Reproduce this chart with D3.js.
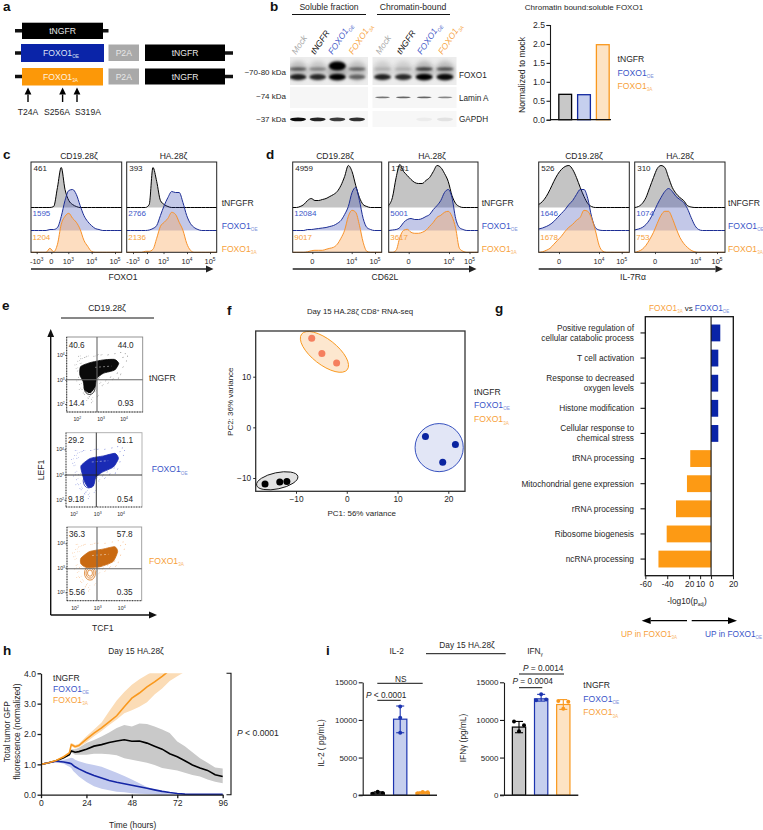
<!DOCTYPE html>
<html><head><meta charset="utf-8">
<script src="https://cdn.jsdelivr.net/npm/d3@7"></script>
<style>html,body{margin:0;padding:0;background:#fff}svg{display:block}text{font-family:"Liberation Sans",Arial,sans-serif;fill:#262626}</style>
</head><body><svg id="fig" width="763" height="830"></svg>
<script>
// ---------- colours ----------
const BLACK="#000",BLUE="#1329a0",ORANGE="#f9981d",BLUET="#3a55c8",ORANGET="#f7a13a";
// ---------- panel b ----------
const laneNames=["Mock","tNGFR","FOXO1","FOXO1"];
const laneSubs=["","","OE","3A"];
const solLower=[.85,.8,1,.5], solUpper=[.55,.35,1,.5];
const chrLower=[.85,.8,1,.95], chrUpper=[.15,.15,.7,.6];
const laminSol=[0,0,0,0], laminChr=[.4,.45,.45,.35];
const gapdhSol=[.95,.85,.75,.8], gapdhChr=[0,0,.04,.08];
const ratioNames=["tNGFR","OE","3A"], ratioValues=[.67,.66,1.98];
const ratioTicks=[0,.5,1,1.5,2,2.5];
// ---------- panels c,d histograms (counts in 25 equal bins across each plot) ----------
const c1T=[0,0,0,0,0,0,1,20,40,18,7,3,1,0,0,0,0,0,0,0,0,0,0,0,0];
const c1O=[0,0,0,0,0,1,1,3,14,30,40,41,36,25,15,9,5,2,1,0,0,0,0,0,0];
const c1A=[0,0,0,0,0,4,.5,8,28,36,39,34,30,23,12,6,1,0,0,0,0,0,0,0,0];
const c2T=[0,0,0,0,0,0,3,40,26,7,3,1,0,0,0,0,0,0,0,0,0,0,0,0,0];
const c2O=[0,0,0,0,0,0,.5,2,5,15,25,33,39,38,38,28,15,7,3,1,0,0,0,0,0];
const c2A=[0,0,0,0,0,1,1,3,14,26,30,34,40,38,30,22,9,2,0,0,0,0,0,0,0];
const d1T=[0,0,1,3,7,9,7,7,8,9,11,13,16,22,31,42,36,22,10,3,1,0,0,0,0];
const d1O=[0,0,0,0,1,1,1.5,2,2.5,3,4,5,7,10,16,24,38,43,30,12,3,1,0,0,0];
const d1A=[0,0,0,0,.5,1.5,2,2,2,3,4,5,8,14,22,36,42,40,27,10,1,0,0,0,0];
const d2T=[2,10,30,43,36,32,28,25,24,24,27,30,36,42,40,34,26,12,4,1,0,0,0,0,0];
const d2O=[0,.5,1,3,8,11,12,11,11,12,14,16,21,25,30,38,41,33,12,3,1,0,0,0,0];
const d2A=[0,0,2,15,22,23,20,19,19,20,22,26,30,35,37,40,41,36,24,4,1,0,0,0,0];
const d3T=[3,6,11,18,26,33,38,41,42,38,30,20,11,4,1,0,0,0,0,0,0,0,0,0,0];
const d3O=[1.5,2.5,4,6,9,13,17,21,26,30,36,41,41,32,14,3,.5,0,0,0,0,0,0,0,0];
const d3A=[0,.5,2,4,8,12,16,21,25,28,32,35,42,41,34,22,7,1,0,0,0,0,0,0,0];
const d4T=[0,1,4,10,20,30,39,42,40,30,20,14,10,7,2,.5,0,0,0,0,0,0,0,0,0];
const d4O=[.5,1.5,3,6,11,18,26,33,39,42,39,34,31,28,22,13,5,1,0,0,0,0,0,0,0];
const d4A=[0,1,3,7,13,20,29,37,41,41,34,24,15,9,5,2,.5,0,0,0,0,0,0,0,0];
const mfiC1=["461","1595","1204"],mfiC2=["393","2766","2136"],mfiD1=["4959","12084","9017"],
      mfiD2=["1781","5001","3617"],mfiD3=["526","1646","1678"],mfiD4=["310","1074","753"];
// ---------- panel e ----------
const quadLabels=[["40.6","44.0","14.4","0.93"],["29.2","61.1","9.18","0.54"],["36.3","57.8","5.56","0.35"]];
const blobT_x=[2.14,2.54,3.10,3.59,3.77,3.59,3.10,2.82,2.75,2.54,2.32,2.25,2.11];
const blobT_y=[3.53,3.69,3.80,3.82,3.66,3.39,3.26,3.05,2.72,2.47,2.58,2.92,3.19];
const blobO_x=[2.30,2.68,3.25,3.74,3.89,3.67,3.18,2.92,2.82,2.60,2.44,2.33];
const blobO_y=[3.36,3.64,3.74,3.84,3.64,3.30,3.09,2.89,2.55,2.49,2.76,3.09];
const blobA_x=[2.26,2.64,3.21,3.71,3.83,3.64,3.14,2.90,2.47,2.26];
const blobA_y=[3.39,3.66,3.76,3.86,3.66,3.25,3.05,3.02,3.02,3.16];
const lobeX=[2.52,2.62,2.66], lobeY=[2.68,2.75,2.78];
const haloX=[1.9,2.0,2.05,2.02,1.98,2.1,2.2,2.3,2.45,2.6,2.15,2.05,2.4,2.7,2.85,3.0,3.3,3.6,3.85,4.05,4.1,3.95,3.7,3.4,3.2,2.95,2.75,2.5,2.2,2.08,2.25,2.4,2.3,2.9,3.5,3.95,4.15,3.85,1.95,2.12,3.05,3.3,3.75,2.6,2.85];
const haloY=[3.6,3.35,3.1,3.75,2.95,2.8,2.6,2.4,2.25,2.2,3.85,3.95,3.95,3.95,4.0,4.0,4.0,4.05,4.1,4.05,3.75,3.5,3.25,3.1,2.95,2.85,2.5,2.3,3.0,2.6,2.45,2.15,3.9,3.05,3.0,3.9,3.95,3.2,3.45,3.65,2.75,2.85,3.05,2.05,2.3];
// ---------- panel f ----------
const pc1T=[-16.1,-13.2,-11.8], pc2T=[-11.2,-10.8,-10.7];
const pc1O=[15.5,21.4,18.9],    pc2O=[-1.8,-3.4,-6.9];
const pc1A=[-6.9,-4.9,-2.0],    pc2A=[17.6,14.6,12.7];
// ---------- panel g ----------
const goTerms=[["Positive regulation of","cellular catabolic process"],["T cell activation"],["Response to decreased","oxygen levels"],["Histone modification"],["Cellular response to","chemical stress"],["tRNA processing"],["Mitochondrial gene expression"],["rRNA processing"],["Ribosome biogenesis"],["ncRNA processing"]];
const goValues=[8.4,6.6,6.5,6.5,6.6,-19,-22,-32,-40.5,-48];
const goTicks=[-60,-40,-20,-10,0,20];
const goTickLabels=["-60","-40","20","10","0","20"];
// ---------- panel h ----------
const hours=[0,4,8,12,15,16,17,18,20,24,28,32,36,40,44,48,52,56,60,64,68,72,76,80,84,88,92,96];
const tngfrMean=[1,1.05,1.12,1.22,1.32,1.44,1.42,1.40,1.42,1.50,1.60,1.65,1.72,1.77,1.81,1.76,1.77,1.70,1.60,1.50,1.35,1.25,1.12,.98,.88,.80,.66,.60];
const tngfrHi=[1,1.05,1.12,1.23,1.36,1.5,1.5,1.5,1.55,1.7,1.8,1.92,2.05,2.2,2.3,2.25,2.35,2.33,2.25,2.15,2.03,1.75,1.6,1.4,1.2,1.05,.9,.86];
const tngfrLo=[1,1.05,1.12,1.21,1.28,1.38,1.36,1.32,1.32,1.32,1.35,1.35,1.33,1.3,1.2,1.15,1.1,1.05,.98,.88,.84,.8,.72,.65,.6,.5,.43,.38];
const oeMean=[1,1.05,1.1,1.08,1.04,1.02,.97,.92,.85,.73,.63,.55,.47,.41,.36,.31,.26,.21,.16,.11,.07,.04,.02,.01,.01,.01,.01,.01];
const oeHi=[1,1.05,1.12,1.15,1.2,1.22,1.2,1.15,1.1,1.03,.98,.92,.82,.72,.62,.5,.38,.25,.17,.08,.04,.02,.01,.01,.01,.01,.01,.01];
const oeLo=[1,1.05,1.08,1.02,.92,.88,.78,.72,.6,.42,.28,.2,.15,.1,.08,.05,.03,.02,.01,0,0,0,0,0,0,0,0,0];
const saMean=[1,1.05,1.13,1.25,1.38,1.65,1.62,1.58,1.62,1.83,2.03,2.2,2.4,2.6,2.9,3.18,3.35,3.55,3.72,3.9,4.1,4.3,4.5,4.7,4.9,5.1,5.3,5.5];
const saHi=[1,1.05,1.14,1.27,1.42,1.7,1.68,1.64,1.68,1.93,2.15,2.38,2.75,3.1,3.38,3.62,3.8,3.95,4.1,4.3,4.5,4.7,4.9,5.1,5.3,5.5,5.7,5.9];
const saLo=[1,1.05,1.12,1.23,1.34,1.6,1.56,1.52,1.56,1.73,1.93,2.1,2.3,2.48,2.68,2.78,2.9,3.05,3.3,3.5,3.75,3.9,4.05,4.25,4.4,4.6,4.8,5];
const hXTicks=[0,24,48,72,96], hYTicks=[0,1,2,3,4];
// ---------- panel i ----------
const il2Means=[300,10100,350], il2Lo=[150,8300,250], il2Hi=[450,11850,450];
const il2Pts=[[200,450,280],[8300,10300,11800],[250,420,400]];
const il2Jit=[[-5,0,5],[0,0,0],[-5,0,5]];
const ifnMeans=[9050,12800,12050], ifnLo=[8300,12500,11400], ifnHi=[9800,13400,12700];
const ifnPts=[[9800,8500,9300],[12600,13400,12700],[12500,11500,12400]];
const ifnJit=[[-5,0,5],[-5,0,5],[-5,0,5]];
const cytoTicks=[0,5000,10000,15000];

// ---------- helpers ----------
const svg=d3.select("#fig");
const defs=svg.append("defs");
function T(x,y,s,o={}){const sz=o.size||8.6;
  const el=svg.append("text").attr("x",x).attr("y",y+sz*.35).text(s).attr("font-size",sz)
   .attr("text-anchor",o.anchor||"start").style("fill",o.fill||"#262626");
  if(o.weight)el.attr("font-weight",o.weight); if(o.italic)el.attr("font-style","italic");
  if(o.rot)el.attr("transform",`rotate(${o.rot} ${x} ${y})`);return el;}
function S(x,y,base,sub,o={}){const el=T(x,y,base,o);const sz=o.size||8.6;
  el.append("tspan").attr("dy",sz*.28).attr("font-size",sz*.55).text(sub).style("fill",o.subFill||o.fill||"#262626");return el;}
const legT=(x,y,o={})=>T(x,y,"tNGFR",Object.assign({fill:"#262626"},o));
const legO=(x,y,o={})=>S(x,y,"FOXO1","OE",Object.assign({fill:BLUET,subFill:"#7d8fd8"},o));
const legA=(x,y,o={})=>S(x,y,"FOXO1","3A",Object.assign({fill:ORANGET,subFill:"#f9b970"},o));
function L(x1,y1,x2,y2,c="#111",w=1){return svg.append("line").attr("x1",x1).attr("y1",y1).attr("x2",x2).attr("y2",y2).attr("stroke",c).attr("stroke-width",w);}
function R(x,y,w,h,f,s,sw){return svg.append("rect").attr("x",x).attr("y",y).attr("width",w).attr("height",h).attr("fill",f||"none").attr("stroke",s||"none").attr("stroke-width",sw||0);}
function arrow(x1,y1,x2,y2,w=1.3,hl=7,hw=3.4,c="#222"){const a=Math.atan2(y2-y1,x2-x1),cx=x2-hl*Math.cos(a),cy=y2-hl*Math.sin(a),
  px=-Math.sin(a)*hw,py=Math.cos(a)*hw;L(x1,y1,cx,cy,c,w);
  svg.append("polygon").attr("points",`${x2},${y2} ${cx+px},${cy+py} ${cx-px},${cy-py}`).attr("fill",c);}
function axisStyle(g,w=1){g.selectAll("path,line").attr("stroke","#1a1a1a").attr("stroke-width",w);g.selectAll("text").style("fill","#262626");}
function panelLetter(x,y,s){T(x,y,s,{size:13.5,weight:"bold",fill:"#111"});}
[["a",3,6],["b",270,6],["c",3,154],["d",266,154],["e",2,305],["f",227,310],["g",495,308],["h",3,650],["i",326,650]].forEach(d=>panelLetter(d[1],d[2],d[0]));

// ---------- a : constructs ----------
function box(x1,x2,y1,y2,f,s){R(x1,y1,x2-x1,y2-y1,f);T((x1+x2)/2,(y1+y2)/2,s,{anchor:"middle",fill:"#e8e8e8",size:8.6});}
L(15,30.7,108.5,30.7,"#111",3.5);
box(22,103,22.7,39,"#000","tNGFR");
L(15,53,22,53,"#111",3.5);L(225,53,233,53,"#111",3.5);
L(15,76.5,22,76.5,"#111",3.5);L(225,76.5,233,76.5,"#111",3.5);
R(21,44,83,18,"#0a24a8");S(43,53,"FOXO1","OE",{fill:"#dfe3f5"});
R(22,68,81,17.5,"#fc9808");S(43,77,"FOXO1","3A",{fill:"#fff3e0"});
[[44.5,61],[68.5,84.5]].forEach(r=>{box(108.5,139,r[0],r[1],"#a9a9a9","P2A");box(145,225,r[0],r[1],"#000","tNGFR");});
[28,62.6,77].forEach(x=>arrow(x,102,x,87.5,1.4,7,3.4,"#000"));
T(28,111.5,"T24A",{anchor:"middle"});T(57,111.5,"S256A",{anchor:"middle"});T(88,111.5,"S319A",{anchor:"middle"});

// ---------- b : blots ----------
T(329,6.7,"Soluble fraction",{anchor:"middle"});T(413,6.7,"Chromatin-bound",{anchor:"middle"});
L(292,14.5,366,14.5,"#111",1.2);L(377,14.5,450,14.5,"#111",1.2);
const solX=d3.scalePoint().domain(d3.range(4)).range([298,357]);
const chrX=d3.scalePoint().domain(d3.range(4)).range([382.5,445]);
const clipId=(id,x,y,w,h)=>defs.append("clipPath").attr("id",id).append("rect").attr("x",x).attr("y",y).attr("width",w).attr("height",h);
clipId("r1",290,57,78,28);clipId("r2",372.5,57,84,28);
const laneStart=[[296,315,332.5,353],[380,401,421.5,442.5]];
[[290,78,solX,solLower,solUpper,laminSol,gapdhSol,"r1",0],[372.5,84,chrX,chrLower,chrUpper,laminChr,gapdhChr,"r2",1]].forEach(p=>{
  R(p[0],57,p[1],28,"#ececec");R(p[0],87,p[1],21,"#f6f6f6");R(p[0],111,p[1],16,"#f7f7f7");
  const gg=svg.append("g").attr("clip-path",`url(#${p[7]})`);
  d3.range(4).forEach(i=>{
    gg.append("ellipse").attr("cx",p[2](i)).attr("cy",71).attr("rx",10).attr("ry",10).attr("fill","#777").attr("opacity",.2+.35*p[4][i]).style("filter","blur(2px)");
    gg.append("ellipse").attr("cx",p[2](i)).attr("cy",77).attr("rx",8.5).attr("ry",1.8+p[3][i]*1.4).attr("fill","#000").attr("opacity",p[3][i]).style("filter","blur(.9px)");
    gg.append("ellipse").attr("cx",p[2](i)).attr("cy",p[4][i]>.9?66:69).attr("rx",8.5).attr("ry",p[4][i]>.9?4.5:1.8).attr("fill","#000").attr("opacity",p[4][i]).style("filter","blur(.9px)");
    svg.append("ellipse").attr("cx",p[2](i)).attr("cy",97.3).attr("rx",7.5).attr("ry",.9).attr("fill","#000").attr("opacity",p[5][i]*1.3).style("filter","blur(.5px)");
    svg.append("ellipse").attr("cx",p[2](i)).attr("cy",119.3).attr("rx",8).attr("ry",1.9).attr("fill","#000").attr("opacity",p[6][i]).style("filter","blur(.6px)");
    const col=["#aaa","#111",BLUET,ORANGET][i],x=laneStart[p[8]][i],y=55;
    const el=svg.append("text").attr("x",x).attr("y",y).attr("font-size",8.6).attr("font-style","italic").attr("transform",`rotate(-56 ${x} ${y})`).text(laneNames[i]).style("fill",col);
    if(laneSubs[i])el.append("tspan").attr("dy",2.5).attr("font-size",4.8).text(laneSubs[i]).style("fill",col);
  });
});
T(286,72.5,"~70-80 kDa",{anchor:"end",size:8});T(286,96,"~74 kDa",{anchor:"end",size:8});T(286,119,"~37 kDa",{anchor:"end",size:8});
T(459,75,"FOXO1",{size:8.2});T(459,98,"Lamin A",{size:8.2});T(459,119,"GAPDH",{size:8.2});
// ratio bars
T(584,6.7,"Chromatin bound:soluble FOXO1",{anchor:"middle",size:8});
const rY=d3.scaleLinear().domain([0,2.5]).range([119.7,25]);
const rX=d3.scaleBand().domain(ratioNames).range([556,612]).paddingInner(.32).paddingOuter(.15);
const rFill=["#c8c8c8","#c6cfee","#fde3c4"],rStroke=["#000",BLUE,ORANGE];
ratioNames.forEach((n,i)=>R(rX(n),rY(ratioValues[i]),rX.bandwidth(),rY(0)-rY(ratioValues[i]),rFill[i],rStroke[i],1.3));
const rA=svg.append("g").attr("transform","translate(550,0)").call(d3.axisLeft(rY).tickValues(ratioTicks).tickFormat(d3.format(".1f")).tickSize(3.5).tickPadding(1.5));
rA.selectAll("text").attr("font-size",8.6);axisStyle(rA,1.1);
L(550,119.7,611,119.7,"#111",1.2);
T(522,75,"Normalized to mock",{anchor:"middle",rot:-90,size:8.6});
legT(617.6,59);legO(617.6,73);legA(617.6,86);

// ---------- c,d : histograms ----------
const histH=d3.scaleLinear().domain([0,90]).range([0,90]);
function hist(px0,px1,T_,O_,A_,mfi,tickDomain,tickRange,tickLabels){
  const y0=162,y1=252.3,baseT=207.5,baseO=230.5;
  const xs=d3.scaleLinear().domain([0,24]).range([px0,px1]);
  const mk=(base)=>d3.area().x((d,i)=>xs(i)).y0(base).y1(d=>base-histH(d)).curve(d3.curveMonotoneX);
  const mkl=(base)=>d3.line().x((d,i)=>xs(i)).y(d=>base-histH(d)).curve(d3.curveMonotoneX);
  [[T_,baseT,"#c4c4c4","#000",1],[O_,baseO,"rgba(32,50,170,.27)","#1c2d94",1],[A_,y1,"rgba(250,165,90,.38)","#f8922a",1]].forEach(s=>{
    svg.append("path").datum(s[0]).attr("d",mk(s[1])).attr("fill",s[2]);
    svg.append("path").datum(s[0]).attr("d",mkl(s[1])).attr("fill","none").attr("stroke",s[3]).attr("stroke-width",s[4]);
  });
  R(px0,y0,px1-px0,y1-y0,"none","#222",1);
  const sc=d3.scaleLinear().domain(tickDomain).range(tickRange);
  const ax=svg.append("g").attr("transform",`translate(0,${y1})`).call(d3.axisBottom(sc).tickValues(tickDomain).tickFormat("").tickSize(1.8));
  axisStyle(ax,.8);ax.select("path").remove();
  tickDomain.forEach((v,i)=>{const lb=tickLabels[i],x=sc(v);
    if(lb==="0")T(x,261,"0",{anchor:"middle",size:7.5});
    else{const el=T(x,261,lb,{anchor:"middle",size:7.5});el.append("tspan").attr("dy",-2.4).attr("font-size",4.8).text(v<0?"3":Math.round(Math.log10(Math.abs(v))));}
  });
  T(px0+2.5,168,mfi[0],{size:8});T(px0+1.5,213,mfi[1],{size:8,fill:BLUET});T(px0+1.5,236.7,mfi[2],{size:8,fill:ORANGET});
}
const fxA=[-1000,0,1000,10000,100000],fxL=["-10","0","10","10","10"];
const fxB=[0,10000,100000],fxM=["0","10","10"];
hist(31,121.7,c1T,c1O,c1A,mfiC1,fxA,[36.7,51.3,68.3,91.7,115],fxL);
hist(126.7,216.7,c2T,c2O,c2A,mfiC2,fxA,[133,147,163.5,187,210],fxL);
hist(292.7,381.7,d1T,d1O,d1A,mfiD1,fxB,[312.3,351.7,375],fxM);
hist(388.7,478,d2T,d2O,d2A,mfiD2,fxB,[408.7,449,469.5],fxM);
hist(538.7,629.3,d3T,d3O,d3A,mfiD3,fxB,[559,599,621.7],fxM);
hist(634.7,725,d4T,d4O,d4A,mfiD4,fxB,[655,695.7,717],fxM);
[[79,"CD19.28ζ"],[173.5,"HA.28ζ"],[335,"CD19.28ζ"],[432,"HA.28ζ"],[584,"CD19.28ζ"],[680,"HA.28ζ"]].forEach(d=>T(d[0],155.7,d[1],{anchor:"middle"}));
[221.7,481.7,728].forEach(x=>{T(x,202.7,"tNFGFR");legO(x,225.7);legA(x,249);});
arrow(31,269,213.5,269,1.4,7.5,3.4);arrow(292.7,269,476.5,269,1.4,7.5,3.4);arrow(538.7,269,723,269,1.4,7.5,3.4);
T(123,277,"FOXO1",{anchor:"middle"});T(385,277,"CD62L",{anchor:"middle"});T(633,277,"IL-7Rα",{anchor:"middle"});

// ---------- e ----------
T(107,308,"CD19.28ζ",{anchor:"middle"});L(61,318,154,318,"#111",1);
arrow(50.7,615,50.7,329,1.4,8,3.4,"#111");arrow(50.7,615,157,615,1.4,8,3.4,"#111");
T(40.7,470,"LEF1",{anchor:"middle",rot:-90});T(102.7,628,"TCF1",{anchor:"middle"});
const ePanels=[
 {x0:66.7,x1:142.7,y0:337,y1:412,cx:97,cy:379.7,xt:[77.3,101,124],yt:[404,379.7,355],bx:blobT_x,by:blobT_y,col:"#000",dot:"#777",fill:"#0a0a0a",ring:"#000",q:quadLabels[0],yq:[345,403.3]},
 {x0:66,x1:142,y0:432.7,y1:507,cx:96.3,cy:475,xt:[74,97.7,121],yt:[499.7,474.7,449.3],bx:blobO_x,by:blobO_y,col:"#1f2fb0",dot:"#6a78d6",fill:"#1a2bb5",ring:"#1f2fb0",q:quadLabels[1],yq:[440,498.7]},
 {x0:67,x1:141.7,y0:527,y1:600.7,cx:97,cy:568.7,xt:[75,97.7,121.7],yt:[592.3,567.7,543.3],bx:blobA_x,by:blobA_y,col:"#c96a12",dot:"#f6b074",fill:"#c96a12",ring:"#d9761a",q:quadLabels[2],yq:[534.3,591.7]}];
ePanels.forEach((p,k)=>{
  const xs=d3.scaleLinear().domain([2,3,4]).range(p.xt),ys=d3.scaleLinear().domain([2,3,4]).range(p.yt);
  svg.append("g").selectAll("circle").data(haloX).join("circle").attr("cx",(d,i)=>xs(d)).attr("cy",(d,i)=>ys(haloY[i])).attr("r",.45).attr("fill",p.dot);
  svg.append("g").selectAll("circle").data(haloX).join("circle").attr("cx",(d,i)=>xs(d*.97+.1)+.8).attr("cy",(d,i)=>ys(haloY[i]*.97+.1)-.8).attr("r",.35).attr("fill",p.dot);
  [1,.72,.45].forEach(m=>svg.append("ellipse").attr("cx",xs(lobeX[k])).attr("cy",ys(lobeY[k])).attr("rx",5.5*m).attr("ry",7*m).attr("fill",k==2?"#fff":"none").attr("stroke",p.ring).attr("stroke-width",.8));
  const pts=d3.zip(p.bx,p.by);
  const line=d3.line().x(d=>xs(d[0])).y(d=>ys(d[1])).curve(d3.curveCardinalClosed.tension(.4));
  svg.append("path").datum(pts).attr("d",line).attr("fill",p.fill).attr("stroke",p.col).attr("stroke-width",.8);
  L(xs(2.75),ys(3.5),xs(3.45),ys(3.55),"#fff",.6).attr("stroke-dasharray","2 2").attr("opacity",.75);
  const frame=k==0?"#888":k==1?"#aaa":"#999";
  R(p.x0,p.y0,p.x1-p.x0,p.y1-p.y0,"none",frame,.9);
  const cc=k==0||k==2?"#666":"#222";
  L(p.cx,p.y0,p.cx,p.y1,cc,k==1?.9:1.1);L(p.x0,p.cy,p.x1,p.cy,cc,k==1?.9:1.1);
  L(p.x0,p.y0,p.x0,p.y1,"#222",.9).attr("stroke-dasharray","1 1.6");L(p.x0,p.y1,p.x1,p.y1,"#222",.9).attr("stroke-dasharray","1 1.6");
  const ya=svg.append("g").attr("transform",`translate(${p.x0},0)`).call(d3.axisLeft(ys).tickValues([2,3,4]).tickFormat("").tickSize(1.5));axisStyle(ya,.8);ya.select("path").remove();
  [2,3,4].forEach(v=>{const el=T(p.x0-2,ys(v),"10",{anchor:"end",size:5.2});el.append("tspan").attr("dy",-1.6).attr("font-size",3.4).text(v);
    const e2=T(xs(v),p.y1+7,"10",{anchor:"middle",size:5.2});e2.append("tspan").attr("dy",-1.6).attr("font-size",3.4).text(v);});
  T(p.x0+10,p.yq[0],p.q[0],{anchor:"middle",size:8.2});T(p.x1-17,p.yq[0],p.q[1],{anchor:"middle",size:8.2});
  T(p.x0+10,p.yq[1],p.q[2],{anchor:"middle",size:8.2});T(p.x1-17,p.yq[1],p.q[3],{anchor:"middle",size:8.2});
});
legT(149,378);legO(151.7,469.3);legA(149,560.7);

// ---------- f ----------
{const e=T(360,311.7,"Day 15 HA.28ζ CD8",{anchor:"middle",size:7.8});
 e.append("tspan").attr("dy",-2).attr("font-size",4.5).text("+");e.append("tspan").attr("dy",2).text(" RNA-seq");}
const fx=d3.scaleLinear().domain([-10,20]).range([296,448.3]);
const fy=d3.scaleLinear().domain([-10,10]).range([478,376.7]);
const fell=[[-13.7,-10.55,4.15,1.6,-12,"#e2e2e2","#111"],[18.2,-4,4.75,4.75,0,"#e2e6f6","#2340b8"],[-4.4,14.9,5.7,2.5,38,"#fde7cf",ORANGE]];
fell.forEach(e=>{const cx=fx(e[0]),cy=fy(e[1]);
  svg.append("ellipse").attr("cx",cx).attr("cy",cy).attr("rx",fx(e[2])-fx(0)).attr("ry",fy(0)-fy(e[3])).attr("transform",`rotate(${e[4]} ${cx} ${cy})`).attr("fill",e[5]).attr("stroke",e[6]).attr("stroke-width",.9);});
[[pc1T,pc2T,"#000"],[pc1O,pc2O,"#0a24a0"],[pc1A,pc2A,"#f57f5f"]].forEach(s=>svg.append("g").selectAll("circle").data(s[0]).join("circle").attr("cx",d=>fx(d)).attr("cy",(d,i)=>fy(s[1][i])).attr("r",3.5).attr("fill",s[2]));
R(255.7,331,209.3,160.3,"none","#333",1.3);
const fxa=svg.append("g").attr("transform","translate(0,491.3)").call(d3.axisBottom(fx).tickValues([-10,0,10,20]).tickSize(2.5).tickPadding(2).tickFormat(d3.format("d")));
const fya=svg.append("g").attr("transform","translate(255.7,0)").call(d3.axisLeft(fy).tickValues([-10,0,10]).tickSize(2.5).tickPadding(2).tickFormat(d3.format("d")));
[fxa,fya].forEach(a=>{a.selectAll("text").attr("font-size",8.3);axisStyle(a,.9);a.select("path").remove();});
T(361.7,513,"PC1: 56% variance",{anchor:"middle",size:8});T(230.7,401.7,"PC2: 36% variance",{anchor:"middle",size:8,rot:-90});
legT(474,391.7);legO(474,405);legA(474,419.3);

// ---------- g ----------
const gx=d3.scaleLinear().domain([-60,20]).range([645.3,733]);
const gy=d3.scaleBand().domain(d3.range(10)).range([320.5,571.5]).paddingInner(.33).paddingOuter(.16);
goValues.forEach((v,i)=>R(Math.min(gx(0),gx(v)),gy(i),Math.abs(gx(v)-gx(0)),gy.bandwidth(),v>0?"#0a24a8":"#fd9a14"));
R(645.3,316.7,88,259,"none","#111",1.3);L(gx(0),316.7,gx(0),575.7,"#111",1.1);
const gxa=svg.append("g").attr("transform","translate(0,575.7)").call(d3.axisBottom(gx).tickValues(goTicks).tickFormat((d,i)=>goTickLabels[i]).tickSize(3.5).tickPadding(1.5));
gxa.selectAll("text").attr("font-size",8.3);axisStyle(gxa,1);gxa.select("path").remove();
goTerms.forEach((t,i)=>{const c=gy(i)+gy.bandwidth()/2;L(640.5,c,645.3,c,"#111",1.1);
  if(t.length==1)T(634,c,t[0],{anchor:"end",size:8.3});
  else{T(634,c-5,t[0],{anchor:"end",size:8.3});T(634,c+5,t[1],{anchor:"end",size:8.3});}});
{const e=S(649,307.7,"FOXO1","3A",{fill:ORANGET,subFill:"#f9b970",size:8.3});
 const m=e.node().getComputedTextLength();T(649+m+2,307.7,"vs",{size:8});legO(649+m+12,307.7,{size:8.3});}
S(687,601,"-log10(p","adj",{anchor:"middle",size:8.3}).append("tspan").attr("dy",-2.3).text(")");
arrow(687,620.7,641.7,620.7,1.3,9,3.4,"#000");arrow(691.7,620.7,737,620.7,1.3,9,3.4,"#000");
S(621,634,"UP in FOXO1","3A",{fill:ORANGET,subFill:"#f9b970",size:8.3});S(705,634,"UP in FOXO1","OE",{fill:BLUET,subFill:"#7d8fd8",size:8.3});

// ---------- h ----------
T(136,651,"Day 15 HA.28ζ",{anchor:"middle",size:8.3});
const hx=d3.scaleLinear().domain([0,96]).range([41,222.7]);
const hy=d3.scaleLinear().domain([0,4]).range([794.7,673.3]);
clipId("hclip",41,673.3,183,122);
const hG=svg.append("g").attr("clip-path","url(#hclip)");
const band=(lo,hi)=>d3.area().x((d,i)=>hx(hours[i])).y0((d,i)=>hy(lo[i])).y1((d,i)=>hy(hi[i]));
const mline=d3.line().x((d,i)=>hx(hours[i])).y(d=>hy(d));
[[tngfrLo,tngfrHi,"#c9c9c9"],[oeLo,oeHi,"#c3cbee"],[saLo,saHi,"#fbdcb6"]].forEach(s=>{
  hG.append("path").datum(hours).attr("d",band(s[0],s[1])).attr("fill",s[2]);});
[[tngfrMean,"#000"],[oeMean,"#1425a5"],[saMean,"#f9981d"]].forEach(s=>hG.append("path").datum(s[0]).attr("d",mline).attr("fill","none").attr("stroke",s[1]).attr("stroke-width",1.6));
const hxa=svg.append("g").attr("transform","translate(0,794.7)").call(d3.axisBottom(hx).tickValues(hXTicks).tickSize(3.5).tickPadding(2).tickSizeOuter(0));
const hya=svg.append("g").attr("transform","translate(41,0)").call(d3.axisLeft(hy).tickValues(hYTicks).tickSize(3.5).tickPadding(1.5).tickSizeOuter(0));
[hxa,hya].forEach(a=>{a.selectAll("text").attr("font-size",8.6);axisStyle(a,1.3);});
svg.append("path").attr("d","M226.5,673.3H231V794.7H226.5").attr("fill","none").attr("stroke","#111").attr("stroke-width",1.1);
T(237,732.7,"P",{italic:true,size:8.6}).append("tspan").attr("font-style","normal").text(" < 0.0001");
T(7,731.7,"Total tumor GFP",{anchor:"middle",rot:-90,size:8.4});T(17.5,731.7,"fluorescence (normalized)",{anchor:"middle",rot:-90,size:8.4});
T(132.7,825,"Time (hours)",{anchor:"middle",size:8.4});
legT(53,678);legO(53,689);legA(53,700);

// ---------- i ----------
T(396.7,651,"IL-2",{anchor:"middle",size:8.3});T(467,644.7,"Day 15 HA.28ζ",{anchor:"middle",size:8.3});L(426,653.7,505.7,653.7,"#111",1);
S(535,651,"IFN","γ",{anchor:"middle",size:8.3});
function cyto(ax0,ax1,centers,means,lo,hi,pts,jit){
  const y=d3.scaleLinear().domain([0,15000]).range([795.2,682.3]);
  const cols=["#000","#1c34b0","#f9981d"],fills=["#c8c8c8","#c6cfee","#fde3c4"],w=13.3;
  const x=d3.scalePoint().domain([0,1,2]).range([centers[0],centers[2]]);
  means.forEach((m,i)=>{R(x(i)-w/2,y(m),w,y(0)-y(m),fills[i],cols[i],1.2);
    L(x(i),y(lo[i]),x(i),y(hi[i]),cols[i],1.1);L(x(i)-4,y(lo[i]),x(i)+4,y(lo[i]),cols[i],1.1);L(x(i)-4,y(hi[i]),x(i)+4,y(hi[i]),cols[i],1.1);
    pts[i].forEach((p,j)=>svg.append("circle").attr("cx",x(i)+jit[i][j]).attr("cy",y(p)).attr("r",2).attr("fill",cols[i]));
  });
  const a=svg.append("g").attr("transform",`translate(${ax0},0)`).call(d3.axisLeft(y).tickValues(cytoTicks).tickSize(4).tickPadding(1.5).tickFormat(d3.format("d")).tickSizeOuter(0));
  a.selectAll("text").attr("font-size",8);axisStyle(a,1.1);L(ax0-4,795.2,ax1,795.2,"#222",1.4);
}
cyto(362.7,437,[377.7,400,422.7],il2Means,il2Lo,il2Hi,il2Pts,il2Jit);
cyto(504,578.3,[519,541.3,563.3],ifnMeans,ifnLo,ifnHi,ifnPts,ifnJit);
T(400.7,678.7,"NS",{anchor:"middle",size:8.3});L(377.3,683.3,422.7,683.3,"#111",1);
T(366,694.7,"P",{size:8.3,italic:true}).append("tspan").attr("font-style","normal").text(" < 0.0001");
L(377.3,700.3,400.7,700.3,"#111",1);
T(523,668,"P",{size:8.3,italic:true}).append("tspan").attr("font-style","normal").text(" = 0.0014");L(519,674,564,674,"#111",1);
T(512.5,681,"P",{size:8.3,italic:true}).append("tspan").attr("font-style","normal").text(" = 0.0004");L(519,687.7,542.3,687.7,"#111",1);
T(321,743,"IL-2 ( pg/mL)",{anchor:"middle",rot:-90,size:8.3});
T(463.3,738,"IFNγ (pg/mL)",{anchor:"middle",rot:-90,size:8.3});
legT(583.3,684.7);legO(583.3,698.7);legA(583.3,712.3);
</script></body></html>
